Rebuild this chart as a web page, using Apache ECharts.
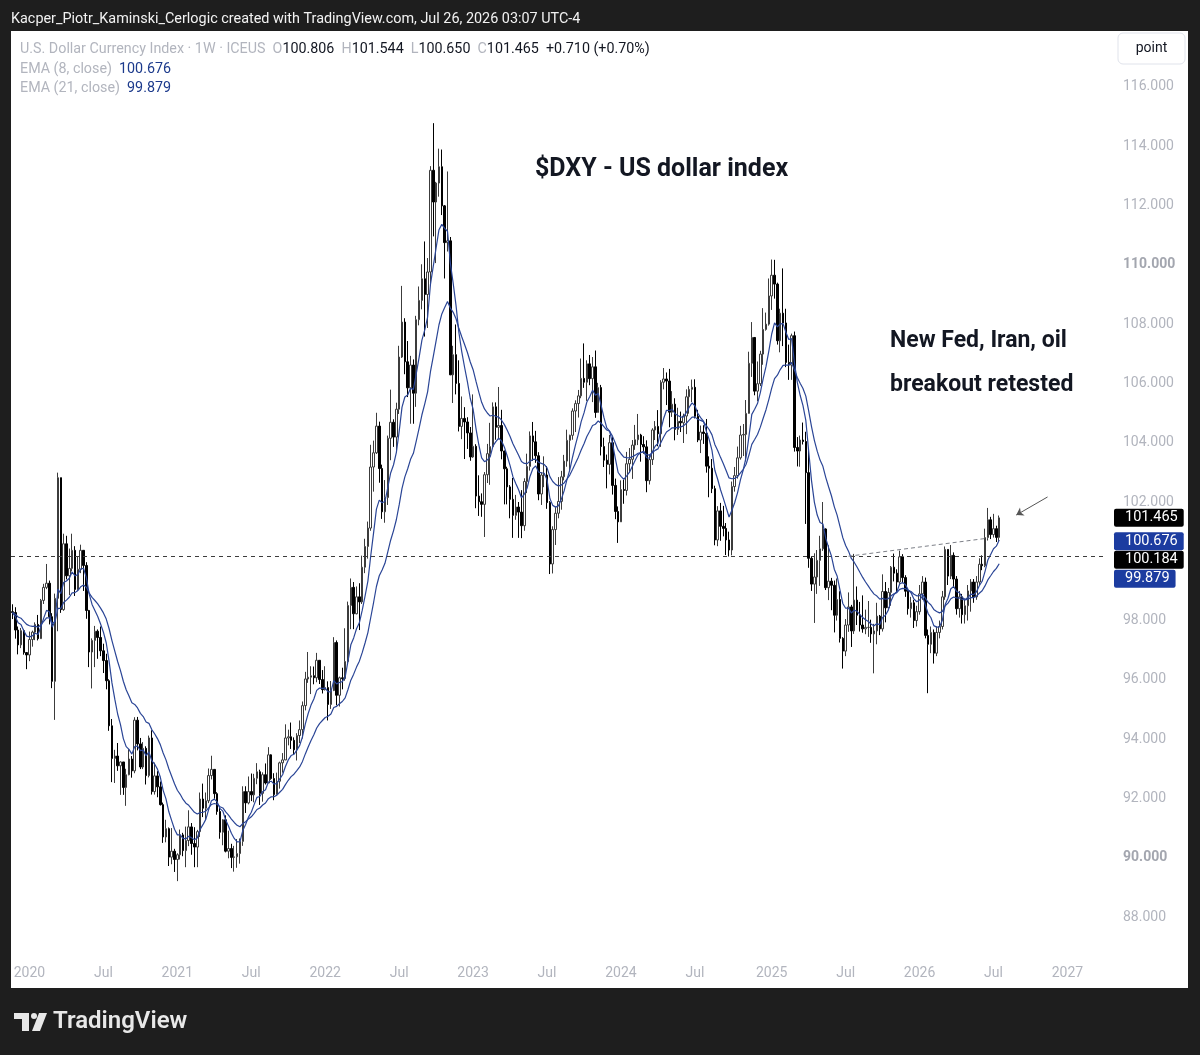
<!DOCTYPE html>
<html><head><meta charset="utf-8">
<script src="https://cdn.jsdelivr.net/npm/echarts@6/dist/echarts.min.js"></script>
<style>html,body{margin:0;padding:0;background:#1e1e1e;}#c{width:1200px;height:1055px;}</style>
</head><body><div id="c"></div>
<script>
// ---- DATA (weekly bars, first bar = week of 2019-11-25) ----
const firstWeekUTC = Date.UTC(2019, 10, 25);
const totalWeeks = 384;
const firstOpen = 98.30;
const closes = [
98.27,97.68,97.18,97.66,96.92,96.84,
97.36,97.61,97.87,97.39,98.68,99.12,99.26,98.13,95.95,98.75,102.82,98.37,100.59,99.51,99.76,100.37,99.05,99.73,100.37,99.86,98.34,96.94,97.33,97.64,97.43,96.98,96.65,95.97,94.45,93.35,93.43,93.10,93.23,92.37,92.80,93.33,92.93,94.64,93.84,93.06,93.69,92.77,94.04,92.23,92.76,92.39,91.79,90.70,90.98,90.02,90.22,89.94,
90.10,90.77,90.24,90.58,91.04,90.48,90.36,90.88,91.98,91.67,91.92,92.77,92.98,92.16,91.56,90.86,91.28,90.22,90.31,90.01,90.03,90.14,90.55,92.23,91.85,92.23,92.12,92.68,92.90,92.17,92.80,92.52,93.47,92.67,92.13,92.58,93.20,93.30,94.04,94.08,93.96,93.64,94.12,94.32,95.13,96.03,96.09,96.14,96.07,96.66,96.01,95.67,
95.74,95.17,95.64,97.26,95.48,96.07,96.04,96.62,98.51,99.12,98.23,98.80,98.63,99.80,100.50,101.12,103.18,103.66,104.56,103.13,101.67,102.15,104.15,104.69,104.19,105.13,106.89,108.07,106.73,105.85,106.62,105.67,108.15,108.80,109.53,109.00,109.76,113.19,112.12,112.76,113.31,111.99,110.75,110.81,106.29,106.97,106.00,104.55,104.82,104.70,104.33,103.52,
103.88,102.20,102.01,101.92,102.92,103.63,103.87,105.21,104.52,104.58,103.72,103.12,102.51,102.09,101.55,101.83,101.66,101.20,102.69,103.20,104.23,104.03,103.56,102.27,102.91,102.91,101.98,99.91,101.07,101.62,102.02,102.85,103.38,104.08,104.25,105.07,105.32,105.58,106.17,106.04,106.66,106.16,106.56,105.02,105.86,103.87,103.41,103.27,104.00,102.56,101.68,101.33,
102.42,102.39,103.29,103.44,103.92,104.10,104.26,103.94,103.86,102.72,103.43,104.43,104.55,104.30,106.04,106.15,106.08,105.03,105.30,104.45,104.72,104.67,104.90,105.55,105.80,105.87,104.89,104.09,104.36,104.31,103.21,103.14,102.45,100.72,101.70,101.18,101.11,100.72,100.38,102.52,102.89,103.49,104.26,104.28,104.99,106.68,107.55,105.74,105.99,106.99,107.82,108.00,108.95,
109.65,109.35,107.44,108.37,108.04,106.71,106.62,107.61,103.84,103.72,104.09,104.04,102.99,100.10,99.23,99.47,100.03,100.42,101.09,99.11,99.33,99.19,98.18,98.71,97.40,96.97,97.85,98.46,97.65,98.69,98.18,97.85,97.72,97.77,97.77,97.55,97.65,98.15,97.72,98.98,98.43,98.95,99.80,99.60,99.30,100.15,99.45,98.99,98.40,98.60,98.00,98.30,
98.90,99.30,97.50,97.20,97.60,96.90,97.60,97.80,98.80,100.40,99.50,100.20,99.40,98.40,98.80,98.20,98.50,99.00,99.30,98.80,99.30,99.90,99.85,100.80,101.40,100.90,101.10,100.806,101.465
];
const highs = [
98.55,98.45,97.80,97.75,97.70,96.94,
97.63,97.66,97.94,98.19,98.73,99.24,99.91,99.35,98.25,98.91,102.99,102.77,100.93,100.86,100.43,100.93,100.51,100.17,100.56,100.30,99.97,98.36,97.40,97.82,97.70,97.80,97.22,96.88,96.02,94.68,93.64,93.87,93.25,93.22,93.00,93.66,93.43,94.74,94.75,94.04,93.90,93.76,94.12,94.30,93.21,92.92,92.57,91.86,91.28,91.02,91.00,90.30,
90.15,90.95,90.84,91.05,91.60,91.17,91.03,90.94,92.20,92.50,92.20,93.01,93.44,92.98,92.21,91.69,91.30,91.43,90.91,90.47,90.40,90.63,90.65,92.41,92.41,92.74,92.84,92.83,93.19,92.97,92.88,93.18,93.73,93.49,92.85,92.87,93.24,93.53,94.50,94.32,94.56,94.06,94.20,94.63,95.27,96.27,96.94,96.46,96.45,96.91,96.65,96.33,
96.46,95.95,95.96,97.44,97.33,96.11,96.41,97.74,98.64,99.42,99.30,99.15,99.26,100.19,100.76,101.34,103.93,104.07,105.01,104.71,103.26,102.74,104.24,105.79,104.79,105.35,107.27,109.29,108.20,107.43,106.93,106.81,108.28,109.27,110.02,110.79,110.23,113.33,114.78,112.80,113.92,113.89,112.02,113.15,110.94,107.27,107.99,106.78,105.56,105.20,104.86,104.53,
105.63,103.95,102.90,102.29,103.01,103.96,104.67,105.36,105.36,105.88,105.11,103.73,103.19,102.57,102.81,102.24,102.00,102.40,102.80,103.63,104.38,104.70,104.40,103.68,103.00,103.54,103.21,102.03,101.18,101.84,102.84,103.05,103.59,104.44,104.27,105.16,105.43,105.78,106.84,107.35,106.78,106.96,106.89,107.11,106.02,105.95,104.17,103.60,104.26,104.19,102.79,101.85,
102.73,102.75,103.69,103.82,104.09,104.60,104.97,104.30,104.22,104.08,103.60,104.49,104.73,105.10,106.11,106.52,106.37,106.49,105.74,105.50,105.18,105.05,104.98,105.80,105.91,106.13,106.14,105.11,104.58,104.59,104.80,103.54,103.45,102.55,101.86,101.97,101.87,101.29,101.00,102.69,103.18,103.87,104.57,104.63,105.44,107.07,108.07,107.56,106.74,107.10,108.54,108.39,109.54,
110.18,110.17,109.40,108.52,109.88,108.52,107.31,107.68,107.75,104.19,104.24,104.68,104.37,103.79,100.16,100.27,100.38,100.86,102.00,101.11,100.54,99.44,99.35,99.42,98.99,97.44,98.05,98.95,98.53,100.25,99.15,98.63,98.85,98.37,98.66,98.03,97.89,98.60,98.19,99.56,99.30,99.10,99.84,100.26,99.73,100.36,100.24,99.53,99.10,98.80,98.70,98.50,
99.20,99.50,99.45,97.70,97.80,97.70,97.80,98.00,99.00,100.50,100.40,100.55,100.30,99.50,99.00,98.90,98.70,99.20,99.40,99.40,99.50,100.10,100.20,101.10,101.80,101.50,101.60,101.20,101.544
];
const lows = [
98.05,97.39,96.86,97.07,96.85,96.36,
96.63,97.12,97.34,97.33,97.38,98.56,99.06,97.87,95.72,94.65,97.64,98.26,98.33,99.39,98.86,99.66,98.83,98.99,99.60,99.00,98.06,96.43,95.71,96.43,96.71,96.80,96.23,95.68,94.28,92.55,92.52,92.93,92.12,92.12,91.75,92.78,92.70,92.85,93.62,92.99,92.99,92.47,92.71,92.13,92.13,92.04,91.76,90.50,90.52,89.72,89.78,89.52,
89.21,89.94,90.05,89.68,90.39,90.10,89.68,89.68,90.70,91.37,91.30,91.84,92.64,91.99,91.45,90.64,90.42,90.18,89.98,89.65,89.53,89.66,89.80,90.40,91.51,91.80,91.91,91.87,92.48,91.78,91.89,92.47,92.52,92.63,91.94,92.13,92.33,92.87,93.29,93.79,93.67,93.50,93.28,93.87,94.02,94.97,95.90,95.52,95.85,95.92,95.86,95.54,
95.64,94.63,95.02,95.62,95.14,95.10,95.68,95.97,96.56,97.71,97.71,98.21,97.68,98.56,99.60,100.09,101.03,102.35,103.62,102.65,101.43,101.30,101.90,103.41,103.86,103.68,104.97,106.86,106.31,105.54,104.64,104.64,105.21,107.96,108.50,107.58,107.87,109.36,110.96,110.06,112.30,111.68,109.54,110.45,106.28,105.34,105.63,104.38,104.12,103.45,103.79,103.39,
103.49,101.79,101.53,101.50,100.82,102.64,102.58,103.84,104.10,104.11,103.44,101.92,101.92,101.45,100.79,101.40,100.79,100.78,101.03,102.30,103.06,103.39,103.32,102.06,101.90,102.50,101.77,99.57,99.59,100.55,101.45,101.74,102.73,103.19,103.04,104.10,104.36,104.85,105.50,105.85,105.41,105.94,105.37,104.84,105.14,103.57,103.18,102.46,102.93,102.25,101.42,100.62,
101.34,101.94,102.22,102.98,102.78,103.76,103.92,103.36,103.63,102.33,102.59,103.25,104.09,103.88,103.86,105.80,105.27,104.52,104.87,104.08,104.26,104.36,103.99,104.29,104.98,105.37,104.82,104.02,103.65,103.96,102.99,102.16,102.30,100.54,100.51,100.69,100.84,100.21,100.16,100.20,102.35,102.79,103.43,103.55,103.37,104.98,106.22,105.60,105.40,105.91,106.63,107.78,107.95,
108.48,108.86,107.31,107.05,107.26,106.55,106.12,106.12,103.70,103.20,103.19,103.94,101.26,99.78,99.00,97.92,98.90,99.17,100.35,99.03,98.69,98.35,97.60,98.00,97.26,96.38,96.80,97.62,97.11,97.55,97.85,97.63,97.59,97.54,97.45,97.25,96.22,97.20,97.51,97.63,97.94,98.41,98.50,99.32,98.93,99.24,99.26,98.80,98.20,98.10,97.75,97.80,
98.20,98.70,97.40,95.55,96.90,96.55,96.80,97.40,97.70,98.70,99.20,99.40,99.10,98.20,98.10,97.90,97.90,98.00,98.30,98.60,98.70,99.20,99.70,99.80,100.70,100.75,100.80,100.65,100.65
];
const priceTicks = [88,90,92,94,96,98,100,102,104,106,108,110,112,114,116];
const boldTicks = [90,110];
const hLine = 100.184;
const lastPrice = 101.465;
const ema8Last = 100.676;
const ema21Last = 99.879;
const trendLine = [[294, 100.17], [343, 100.78]];
const arrowLine = [[364, 102.17], [353, 101.56]];
const headerText = 'Kacper_Piotr_Kaminski_Cerlogic created with TradingView.com, Jul 26, 2026 03:07 UTC-4';

// ---- derived ----
const cats = [];
for (let i = 0; i < totalWeeks; i++) cats.push(new Date(firstWeekUTC + i * 7 * 86400000).toISOString().slice(0, 10));
const candles = closes.map((c, i) => {
  const o = i === 0 ? firstOpen : closes[i - 1];
  return [o, c, Math.min(lows[i], o, c), Math.max(highs[i], o, c)];
});
function ema(vals, n) { const k = 2 / (n + 1); let e = vals[0]; return vals.map((v, i) => { if (i > 0) e = v * k + e * (1 - k); return +e.toFixed(3); }); }
const ema8 = ema(closes, 8), ema21 = ema(closes, 21);
function isLabelWeek(v) { const m = v.slice(5, 7), d = +v.slice(8, 10); return (m === '01' || m === '07') && d <= 7; }

const FONT = 'Roboto';
const HIDDEN = { color: 'rgba(0,0,0,0)', width: 0 };
function priceBox(bg, off) {
  return { show: true, position: 'end', distance: 11, offset: off || [0, 0], color: '#fff', fontSize: 14.5, fontFamily: FONT,
    backgroundColor: bg, padding: [2, 6, 1, 11], borderRadius: 2, formatter: p => p.name };
}

const chart = echarts.init(document.getElementById('c'), null, { renderer: 'canvas' });
chart.setOption({
  animation: false,
  backgroundColor: '#1e1e1e',
  textStyle: { fontFamily: FONT },
  grid: { left: 11, right: 97, top: 27.714, bottom: 78.714 },
  xAxis: {
    type: 'category', data: cats, boundaryGap: true, offset: -18,
    axisLine: { show: false }, axisTick: { show: false }, splitLine: { show: false },
    axisLabel: { interval: (i, v) => isLabelWeek(v), formatter: v => v.slice(5, 7) === '01' ? v.slice(0, 4) : 'Jul',
      color: '#b2b5be', fontSize: 14, fontFamily: FONT, margin: 8 }
  },
  yAxis: {
    type: 'value', position: 'right', min: 86, max: 118, interval: 2, scale: true,
    axisLine: { show: false }, axisTick: { show: false }, splitLine: { show: false },
    axisLabel: { margin: 20, color: '#b2b5be', fontSize: 14, fontFamily: FONT,
      formatter: v => priceTicks.includes(v) ? (boldTicks.includes(v) ? '{b|' + v.toFixed(3) + '}' : v.toFixed(3)) : '',
      rich: { b: { color: '#a3a6af', fontWeight: 'bold', fontSize: 14, fontFamily: FONT } } }
  },
  graphic: [
    { type: 'rect', z: -10, shape: { x: 11, y: 31, width: 1177, height: 957 }, style: { fill: '#ffffff' } },
    { type: 'text', z: 100, x: 11, y: 19, style: { text: headerText, fill: '#f2f2f2', font: '14.4px Roboto', verticalAlign: 'middle' } },
    { type: 'text', z: 100, x: 20, y: 49, style: { verticalAlign: 'middle',
      text: '{g|U.S. Dollar Currency Index · 1W · ICEUS  O}{k|100.806}{g|  H}{k|101.544}{g|  L}{k|100.650}{g|  C}{k|101.465}{k|  +0.710 (+0.70%)}',
      rich: { g: { fill: '#b2b5be', fontSize: 14.3, fontFamily: FONT }, k: { fill: '#131722', fontSize: 14.3, fontFamily: FONT } } } },
    { type: 'text', z: 100, x: 20, y: 69, style: { verticalAlign: 'middle',
      text: '{g|EMA (8, close)  }{v|' + ema8Last.toFixed(3) + '}',
      rich: { g: { fill: '#b2b5be', fontSize: 14.3, fontFamily: FONT }, v: { fill: '#1c3a8c', fontSize: 14.3, fontFamily: FONT } } } },
    { type: 'text', z: 100, x: 20, y: 88, style: { verticalAlign: 'middle',
      text: '{g|EMA (21, close)  }{v|' + ema21Last.toFixed(3) + '}',
      rich: { g: { fill: '#b2b5be', fontSize: 14.3, fontFamily: FONT }, v: { fill: '#1c3a8c', fontSize: 14.3, fontFamily: FONT } } } },
    { type: 'rect', z: 100, shape: { x: 1118, y: 33, width: 67, height: 31, r: 5 }, style: { fill: '#fff', stroke: '#e0e3eb', lineWidth: 1 } },
    { type: 'text', z: 101, x: 1151.5, y: 48.5, style: { text: 'point', fill: '#131722', font: '14px Roboto', align: 'center', verticalAlign: 'middle' } },
    { type: 'text', z: 100, x: 535, y: 170, style: { text: '$DXY - US dollar index', fill: '#131722', font: 'bold 25px Roboto', verticalAlign: 'middle' } },
    { type: 'text', z: 100, x: 890, y: 341, style: { text: 'New Fed, Iran, oil', fill: '#131722', font: 'bold 23px Roboto', verticalAlign: 'middle' } },
    { type: 'text', z: 100, x: 890, y: 385, style: { text: 'breakout retested', fill: '#131722', font: 'bold 23px Roboto', verticalAlign: 'middle' } },
    // TradingView logo
    { type: 'rect', z: 100, shape: { x: 14, y: 1013, width: 15, height: 6 }, style: { fill: '#e8e8e8' } },
    { type: 'rect', z: 100, shape: { x: 22, y: 1013, width: 7, height: 18 }, style: { fill: '#e8e8e8' } },
    { type: 'circle', z: 100, shape: { cx: 34, cy: 1016, r: 3 }, style: { fill: '#e8e8e8' } },
    { type: 'polygon', z: 100, shape: { points: [[39, 1013], [47, 1013], [40, 1031], [32, 1031]] }, style: { fill: '#e8e8e8' } },
    { type: 'text', z: 100, x: 53, y: 1022, style: { text: 'TradingView', fill: '#e8e8e8', font: '600 24px Roboto', verticalAlign: 'middle' } }
  ],
  series: [
    {
      type: 'candlestick', data: candles, barWidth: 2, z: 3,
      itemStyle: { color: '#ffffff', color0: '#000000', borderColor: '#3c3c3c', borderColor0: '#000000', borderWidth: 1 },
      markLine: {
        silent: true, symbol: 'none', animation: false, precision: 3,
        data: [
          { name: hLine.toFixed(3), yAxis: hLine, lineStyle: { color: '#3c3c3c', type: [4, 4], width: 1 }, label: priceBox('#000000', [0, 4]) },
          { name: lastPrice.toFixed(3), yAxis: lastPrice, lineStyle: HIDDEN, label: priceBox('#000000') },
          { name: ema8Last.toFixed(3), yAxis: ema8Last, lineStyle: HIDDEN, label: priceBox('#1c3ca0') },
          { name: ema21Last.toFixed(3), yAxis: ema21Last, lineStyle: HIDDEN, label: priceBox('#1c3ca0', [0, 14]) },
          [ { coord: [cats[trendLine[0][0]], trendLine[0][1]], lineStyle: { color: '#7d8088', type: [4, 3], width: 1 }, label: { show: false } },
            { coord: [cats[trendLine[1][0]], trendLine[1][1]] } ],
          [ { coord: [cats[arrowLine[0][0]], arrowLine[0][1]], symbol: 'none', lineStyle: { color: '#555', type: 'solid', width: 1 }, label: { show: false } },
            { coord: [cats[arrowLine[1][0]], arrowLine[1][1]], symbol: 'arrow', symbolSize: 7 } ]
        ]
      }
    },
    { type: 'line', data: ema8, showSymbol: false, symbol: 'none', z: 4, lineStyle: { color: '#2a4596', width: 1.2 } },
    { type: 'line', data: ema21, showSymbol: false, symbol: 'none', z: 4, lineStyle: { color: '#2a4596', width: 1.2 } }
  ]
});
</script></body></html>
